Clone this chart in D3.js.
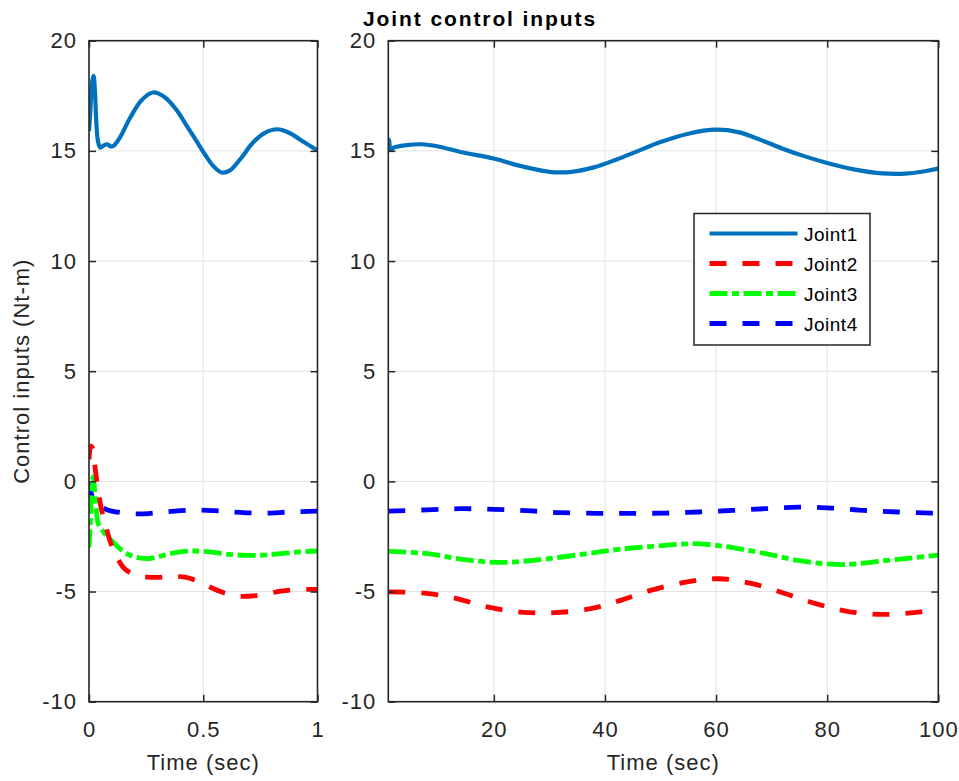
<!DOCTYPE html>
<html>
<head>
<meta charset="utf-8">
<script src="https://cdn.jsdelivr.net/npm/d3@7"></script>
<style>
  html, body { margin: 0; padding: 0; background: #fff; }
  svg { display: block; }
  text { font-family: "Liberation Sans", Arial, Helvetica, sans-serif; fill: #262626; }
</style>
</head>
<body>
<svg id="chart" width="959" height="781"></svg>
<script>
// ---------------- DATA ----------------
const titleText = "Joint control inputs";
const yLabelText = "Control inputs (Nt-m)";
const xLabelText = "Time (sec)";
const seriesNames = ["Joint1", "Joint2", "Joint3", "Joint4"];

const yTicks = [-10, -5, 0, 5, 10, 15, 20];
const yTickLabels = ["-10", "-5", "0", "5", "10", "15", "20"];
const leftXTicks = [0, 0.5, 1];
const leftXTickLabels = ["0", "0.5", "1"];
const rightXTicks = [20, 40, 60, 80, 100];
const rightXTickLabels = ["20", "40", "60", "80", "100"];

// Left panel (0..1 s): [time, value]
const leftJoint1 = [[0,15.9],[0.006,16.8],[0.013,18.1],[0.02,18.4],[0.026,17.7],[0.032,16.3],[0.04,15.4],[0.05,15.15],[0.065,15.25],[0.08,15.3],[0.095,15.2],[0.11,15.25],[0.135,15.6],[0.18,16.5],[0.23,17.3],[0.28,17.65],[0.33,17.45],[0.38,16.9],[0.43,16.1],[0.47,15.45],[0.51,14.8],[0.545,14.3],[0.58,14.02],[0.615,14.1],[0.66,14.6],[0.72,15.4],[0.77,15.82],[0.825,15.98],[0.88,15.8],[0.94,15.4],[1.0,15.02]];
const leftJoint2 = [[0,1.0],[0.008,1.6],[0.016,1.5],[0.028,0.5],[0.04,-0.4],[0.055,-1.3],[0.07,-1.9],[0.095,-2.8],[0.12,-3.4],[0.15,-3.9],[0.18,-4.15],[0.21,-4.27],[0.26,-4.35],[0.32,-4.35],[0.37,-4.3],[0.42,-4.35],[0.47,-4.5],[0.52,-4.75],[0.57,-4.98],[0.62,-5.15],[0.67,-5.22],[0.72,-5.2],[0.78,-5.1],[0.84,-4.98],[0.9,-4.92],[0.96,-4.9],[1.0,-4.9]];
const leftJoint3 = [[0,-3.0],[0.006,-1.8],[0.012,-0.4],[0.018,0.2],[0.024,-0.3],[0.032,-1.3],[0.04,-1.9],[0.06,-2.25],[0.08,-2.5],[0.105,-2.75],[0.14,-3.1],[0.18,-3.35],[0.22,-3.47],[0.266,-3.5],[0.31,-3.4],[0.36,-3.27],[0.42,-3.18],[0.47,-3.16],[0.53,-3.2],[0.6,-3.3],[0.69,-3.36],[0.76,-3.35],[0.84,-3.28],[0.92,-3.2],[1.0,-3.16]];
const leftJoint4 = [[0,-0.1],[0.008,-0.45],[0.016,-0.8],[0.025,-1.1],[0.035,-1.2],[0.05,-1.15],[0.07,-1.25],[0.1,-1.35],[0.14,-1.42],[0.2,-1.47],[0.26,-1.46],[0.32,-1.4],[0.4,-1.33],[0.47,-1.3],[0.55,-1.33],[0.62,-1.38],[0.7,-1.43],[0.78,-1.44],[0.86,-1.4],[0.93,-1.37],[1.0,-1.35]];

// Right panel (1..100 s): [time, value]
const rightJoint1 = [[1,15.0],[1.15,15.5],[1.4,15.05],[2,15.15],[4,15.25],[7,15.3],[10,15.2],[14,14.95],[20,14.65],[25,14.3],[30,14.05],[34,14.05],[38,14.25],[42,14.6],[46,15.0],[50,15.4],[55,15.78],[60,15.96],[64,15.85],[68,15.5],[72,15.1],[76,14.75],[80,14.45],[85,14.15],[90,13.98],[94,13.97],[97,14.05],[100,14.2]];
const rightJoint2 = [[1,-5.02],[7.5,-5.07],[13.5,-5.33],[18.8,-5.7],[24.8,-5.93],[30.8,-5.96],[37.4,-5.78],[42.8,-5.4],[48.2,-4.95],[54.6,-4.57],[60.5,-4.42],[66.5,-4.64],[72.5,-5.1],[78.4,-5.58],[84.4,-5.93],[90.4,-6.04],[96.4,-5.93],[100,-5.8]];
const rightJoint3 = [[1,-3.18],[8,-3.28],[14.7,-3.55],[21.2,-3.68],[28.4,-3.55],[36.8,-3.28],[42,-3.1],[48,-2.96],[55.7,-2.83],[59.9,-2.9],[64,-3.05],[68.9,-3.28],[74.8,-3.59],[81.4,-3.77],[85,-3.75],[89.8,-3.62],[95,-3.48],[100,-3.35]];
const rightJoint4 = [[1,-1.35],[8,-1.29],[14,-1.24],[20,-1.27],[26,-1.33],[32,-1.42],[38.5,-1.45],[44.6,-1.45],[50.9,-1.44],[56.9,-1.39],[62.9,-1.32],[68.9,-1.24],[74.8,-1.17],[80.8,-1.21],[86.8,-1.32],[92.8,-1.39],[98.8,-1.44],[100,-1.44]];

// ---------------- STYLE ----------------
const seriesStyle = [
  { color: "#0072BD", width: 4.2, dash: null },
  { color: "#FF0000", width: 4.8, dash: "17,16" },
  { color: "#00FF00", width: 4.8, dash: "18,4.5,7,4.5" },
  { color: "#0000FF", width: 4.8, dash: "17,16" }
];
const axisColor = "#262626";
const gridColor = "#e3e3e3";
const FS = "22px";
const LS = "1px";

const svg = d3.select("#chart");
const plotTop = 40.7, plotBottom = 701.7;

const yScale = d3.scaleLinear().domain([-10, 20]).range([plotBottom, plotTop]);

const panels = [
  { id: "L", x0: 89, x1: 317.5, domain: [0, 1], ticks: leftXTicks, labels: leftXTickLabels,
    data: [leftJoint1, leftJoint2, leftJoint3, leftJoint4] },
  { id: "R", x0: 388.3, x1: 938.3, domain: [1, 100], ticks: rightXTicks, labels: rightXTickLabels,
    data: [rightJoint1, rightJoint2, rightJoint3, rightJoint4] }
];

panels.forEach(p => {
  const x = d3.scaleLinear().domain(p.domain).range([p.x0, p.x1]);
  const g = svg.append("g");

  svg.append("clipPath").attr("id", "clip" + p.id)
    .append("rect").attr("x", p.x0).attr("y", plotTop).attr("width", p.x1 - p.x0).attr("height", plotBottom - plotTop);

  // grid
  g.append("g").selectAll("line").data(p.ticks).join("line")
    .attr("x1", d => x(d)).attr("x2", d => x(d)).attr("y1", plotTop).attr("y2", plotBottom)
    .attr("stroke", gridColor).attr("stroke-width", 1);
  g.append("g").selectAll("line").data(yTicks).join("line")
    .attr("x1", p.x0).attr("x2", p.x1).attr("y1", d => yScale(d)).attr("y2", d => yScale(d))
    .attr("stroke", gridColor).attr("stroke-width", 1);

  // lines
  const line = d3.line().x(d => x(d[0])).y(d => yScale(d[1])).curve(d3.curveCatmullRom.alpha(0.5));
  const lg = g.append("g").attr("clip-path", `url(#clip${p.id})`);
  [3, 2, 1, 0].forEach(i => {
    const s = seriesStyle[i];
    lg.append("path").datum(p.data[i]).attr("d", line)
      .attr("fill", "none").attr("stroke", s.color).attr("stroke-width", s.width)
      .attr("stroke-linejoin", "round")
      .attr("stroke-dasharray", s.dash);
  });

  const axB = d3.axisBottom(x).tickValues(p.ticks).tickFormat((d, i) => p.labels[i]).tickSizeInner(-7).tickSizeOuter(0).tickPadding(20);
  const axT = d3.axisTop(x).tickValues(p.ticks).tickFormat("").tickSizeInner(-7).tickSizeOuter(0);
  const axL = d3.axisLeft(yScale).tickValues(yTicks).tickFormat((d, i) => yTickLabels[i]).tickSizeInner(-7).tickSizeOuter(0).tickPadding(12);
  const axR = d3.axisRight(yScale).tickValues(yTicks).tickFormat("").tickSizeInner(-7).tickSizeOuter(0);

  const styleAxis = sel => {
    sel.select(".domain").remove();
    sel.selectAll(".tick line").attr("stroke", axisColor).attr("stroke-width", 1.5);
    sel.selectAll(".tick text").attr("fill", axisColor).style("font-size", FS)
      .style("font-family", '"Liberation Sans", Arial, sans-serif').attr("letter-spacing", LS);
  };
  g.append("g").attr("transform", `translate(0,${plotBottom})`).call(axB).call(styleAxis);
  g.append("g").attr("transform", `translate(0,${plotTop})`).call(axT).call(styleAxis);
  g.append("g").attr("transform", `translate(${p.x0},0)`).call(axL).call(styleAxis);
  g.append("g").attr("transform", `translate(${p.x1},0)`).call(axR).call(styleAxis);

  g.append("rect").attr("x", p.x0).attr("y", plotTop).attr("width", p.x1 - p.x0).attr("height", plotBottom - plotTop)
    .attr("fill", "none").attr("stroke", axisColor).attr("stroke-width", 1.6);

  g.append("text").attr("x", (p.x0 + p.x1) / 2).attr("y", 770).attr("text-anchor", "middle")
    .style("font-size", FS).attr("letter-spacing", LS).text(xLabelText);
});

// y label
svg.append("text").attr("transform", `translate(29,${(plotTop + plotBottom) / 2}) rotate(-90)`)
  .attr("text-anchor", "middle").style("font-size", FS).attr("letter-spacing", LS).text(yLabelText);

// title
svg.append("text").attr("x", 480).attr("y", 26).attr("text-anchor", "middle")
  .style("font-size", "21px").style("font-weight", "bold").attr("letter-spacing", "1.9px")
  .style("fill", "#000").text(titleText);

// legend
const lgX0 = 694, lgY0 = 213.5, lgW = 176, lgH = 131.5;
const leg = svg.append("g");
leg.append("rect").attr("x", lgX0).attr("y", lgY0).attr("width", lgW).attr("height", lgH)
  .attr("fill", "#fff").attr("stroke", axisColor).attr("stroke-width", 1.5);
const rowY = d3.scalePoint().domain(seriesNames).range([233.5, 323.5]);
seriesNames.forEach((name, i) => {
  const s = seriesStyle[i];
  const yy = rowY(name);
  leg.append("line").attr("x1", 709.5).attr("x2", 797.5).attr("y1", yy).attr("y2", yy)
    .attr("stroke", s.color).attr("stroke-width", s.width).attr("stroke-dasharray", s.dash);
  leg.append("text").attr("x", 804).attr("y", yy + 7.5).style("font-size", "19px")
    .attr("letter-spacing", "0.5px").style("fill", "#000").text(name);
});
</script>
</body>
</html>
